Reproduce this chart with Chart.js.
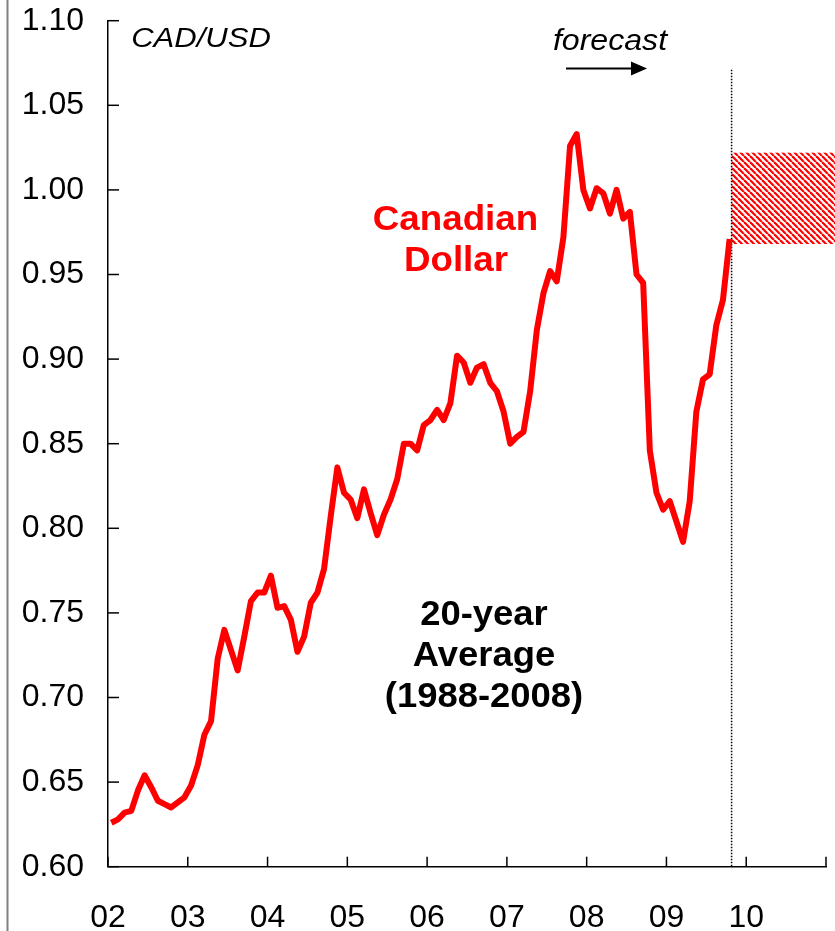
<!DOCTYPE html>
<html>
<head>
<meta charset="utf-8">
<script src="https://cdn.jsdelivr.net/npm/chart.js@4.4.1/dist/chart.umd.min.js"></script>
<style>
  html, body { margin: 0; padding: 0; background: #fff; }
  #wrap { position: relative; width: 835px; height: 931px; }
</style>
</head>
<body>
<div id="wrap"><canvas id="cadChart" width="835" height="931"></canvas></div>
<script>
// ==========================================
// DATA - CAD/USD monthly, Jan 2002 .. Oct 2009
// ==========================================
const yearLabels = ['02', '03', '04', '05', '06', '07', '08', '09', '10', ''];

const cadUsd = [
  0.626, 0.628, 0.632, 0.633, 0.645, 0.654, 0.647, 0.639, 0.637, 0.635, 0.638, 0.641, // 2002
  0.648, 0.660, 0.678, 0.686, 0.723, 0.740, 0.728, 0.716, 0.736, 0.757, 0.762, 0.762, // 2003
  0.772, 0.753, 0.754, 0.746, 0.727, 0.736, 0.756, 0.762, 0.776, 0.807, 0.836, 0.821, // 2004
  0.817, 0.806, 0.823, 0.809, 0.796, 0.808, 0.817, 0.829, 0.850, 0.850, 0.846, 0.861, // 2005
  0.864, 0.870, 0.864, 0.874, 0.902, 0.898, 0.886, 0.895, 0.897, 0.886, 0.881, 0.869, // 2006
  0.850, 0.854, 0.857, 0.881, 0.917, 0.939, 0.952, 0.946, 0.972, 1.026, 1.033, 1.000, // 2007
  0.989, 1.001, 0.998, 0.986, 1.000, 0.983, 0.987, 0.950, 0.945, 0.846, 0.821, 0.811, // 2008
  0.816, 0.804, 0.792, 0.816, 0.869, 0.888, 0.891, 0.920, 0.935, 0.971              // 2009
];

// forecast range (CAD/USD) and where the forecast starts (months since Jan 2002)
const forecastBand = [0.968, 1.022];
const forecastStart = 93.8;
const forecastMarkTop = 1.071;

const FONT = '"Liberation Sans", Arial, sans-serif';

// ==========================================
// helpers
// ==========================================
function hatchPattern(ctx) {
  const s = 6;
  const c = document.createElement('canvas');
  c.width = s; c.height = s;
  const p = c.getContext('2d');
  p.fillStyle = '#fff';
  p.fillRect(0, 0, s, s);
  p.strokeStyle = '#ff0000';
  p.lineWidth = 2.2;
  [-s, 0, s].forEach(k => {
    p.beginPath();
    p.moveTo(k, 0);
    p.lineTo(k + s, s);
    p.stroke();
  });
  return ctx.createPattern(c, 'repeat');
}

function drawText(ctx, txt, x, y, font, color, sx) {
  ctx.save();
  ctx.translate(x, y);
  ctx.scale(sx, 1);
  ctx.font = font;
  ctx.fillStyle = color;
  ctx.textAlign = 'center';
  ctx.textBaseline = 'alphabetic';
  ctx.fillText(txt, 0, 0);
  ctx.restore();
}

function noOverflow(s) {
  s.paddingTop = 0; s.paddingBottom = 0;
  s.paddingLeft = 0; s.paddingRight = 0;
}

// ==========================================
// plugin: frame, forecast box, inner ticks, notes
// ==========================================
const decor = {
  id: 'decor',
  beforeDatasetsDraw(chart) {
    const { ctx, chartArea, scales: { x, y } } = chart;
    ctx.save();
    // left frame line
    ctx.strokeStyle = '#808080';
    ctx.lineWidth = 2;
    ctx.beginPath();
    ctx.moveTo(7.5, 0);
    ctx.lineTo(7.5, chart.height);
    ctx.stroke();

    // forecast box
    const x0 = x.getPixelForValue(forecastStart);
    const yTop = y.getPixelForValue(forecastBand[1]);
    const yBot = y.getPixelForValue(forecastBand[0]);
    ctx.fillStyle = hatchPattern(ctx);
    ctx.fillRect(x0, yTop, chart.width - x0, yBot - yTop);

    // dotted divider
    ctx.strokeStyle = '#000';
    ctx.lineWidth = 1.5;
    ctx.setLineDash([1.5, 1.5]);
    ctx.beginPath();
    ctx.moveTo(x0, y.getPixelForValue(forecastMarkTop));
    ctx.lineTo(x0, chartArea.bottom);
    ctx.stroke();
    ctx.restore();
  },
  afterDraw(chart) {
    const { ctx, chartArea, scales: { x, y } } = chart;
    ctx.save();
    ctx.strokeStyle = '#000';
    ctx.lineWidth = 1.5;
    // inside ticks
    y.ticks.forEach(t => {
      const py = y.getPixelForValue(t.value);
      ctx.beginPath();
      ctx.moveTo(chartArea.left, py);
      ctx.lineTo(chartArea.left + 11, py);
      ctx.stroke();
    });
    x.ticks.forEach(t => {
      const px = x.getPixelForValue(t.value);
      ctx.beginPath();
      ctx.moveTo(px, chartArea.bottom);
      ctx.lineTo(px, chartArea.bottom - 10);
      ctx.stroke();
    });

    // forecast arrow
    ctx.lineWidth = 2;
    ctx.beginPath();
    ctx.moveTo(566, 68.5);
    ctx.lineTo(634, 68.5);
    ctx.stroke();
    ctx.fillStyle = '#000';
    ctx.beginPath();
    ctx.moveTo(631, 61.5);
    ctx.lineTo(647, 68.5);
    ctx.lineTo(631, 75.5);
    ctx.closePath();
    ctx.fill();
    ctx.restore();

    // notes
    drawText(ctx, 'CAD/USD', 201, 47, 'italic 27px ' + FONT, '#000', 1.15);
    drawText(ctx, 'forecast', 610, 50, 'italic 30px ' + FONT, '#000', 1.07);
    drawText(ctx, 'Canadian', 455.5, 230, 'bold 35px ' + FONT, '#ff0000', 1.05);
    drawText(ctx, 'Dollar', 456, 271, 'bold 35px ' + FONT, '#ff0000', 1.05);
    drawText(ctx, '20-year', 484, 625, 'bold 35px ' + FONT, '#000', 1.04);
    drawText(ctx, 'Average', 484, 666, 'bold 35px ' + FONT, '#000', 1.04);
    drawText(ctx, '(1988-2008)', 484, 707, 'bold 35px ' + FONT, '#000', 1.04);
  }
};

// ==========================================
// CHART
// ==========================================
const points = cadUsd.map((v, i) => ({ x: i + 0.5, y: v }));

new Chart(document.getElementById('cadChart').getContext('2d'), {
  type: 'line',
  data: {
    datasets: [{
      data: points,
      borderColor: '#ff0000',
      borderWidth: 6,
      pointRadius: 0,
      tension: 0,
      borderJoinStyle: 'round',
      fill: false
    }]
  },
  options: {
    responsive: false,
    animation: false,
    layout: { padding: { top: 20.7, right: 9, left: 0, bottom: 0 } },
    plugins: { legend: { display: false }, tooltip: { enabled: false } },
    scales: {
      x: {
        type: 'linear', min: 0, max: 108,
        ticks: {
          stepSize: 12, autoSkip: false, maxRotation: 0, padding: 32,
          color: '#000', font: { size: 32, family: FONT },
          callback: v => yearLabels[Math.round(v / 12)]
        },
        grid: { display: false, drawTicks: false },
        border: { color: '#000', width: 1.5 },
        afterFit: s => { s.height = 64.3; noOverflow(s); }
      },
      y: {
        min: 0.6, max: 1.1,
        ticks: {
          stepSize: 0.05, padding: 24,
          color: '#000', font: { size: 32, family: FONT },
          callback: v => v.toFixed(2)
        },
        grid: { display: false, drawTicks: false },
        border: { color: '#000', width: 1.5 },
        afterFit: s => { s.width = 108; noOverflow(s); }
      }
    }
  },
  plugins: [decor]
});
</script>
</body>
</html>
